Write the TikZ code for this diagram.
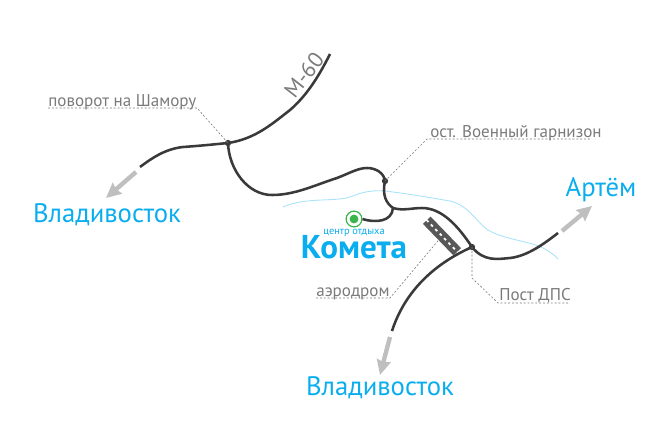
\documentclass[tikz,border=0pt]{standalone}
\usepackage{fontspec}
\setmainfont{PT Sans}
\usetikzlibrary{positioning, arrows.meta}
\definecolor{skyblue}{HTML}{0AADEE}
\definecolor{roadgray}{HTML}{3A3A3A}
\definecolor{labelgray}{HTML}{7A7A7A}
\definecolor{restgreen}{HTML}{39B54A}
\tikzset{
	road/.style={draw=roadgray, line width=1.45pt},
	river/.style={draw=skyblue!35, line width=0.5pt},
	leader/.style={draw=labelgray, line width=0.35pt, dash pattern=on 1.1pt off 1.1pt},
	way/.style={draw=black!25, line width=2.5pt, -{Stealth[length=8.5pt, width=8pt, inset=1pt]}},
	junction/.style={circle, fill=roadgray, inner sep=0pt, minimum size=3.6pt},
	city/.style={text=skyblue, font=\fontsize{15.2}{16}\selectfont, inner sep=0pt},
	placelabel/.style={text=labelgray, font=\fontsize{9.7}{10}\selectfont, inner sep=0pt}
}
\begin{document}
\begin{tikzpicture}[x=0.02cm, y=-0.02cm]
	\useasboundingbox (0,0) rectangle (670,447);
	%river
	\draw[river] (283,207) .. controls (305,197) and (335,202) .. (350,197) .. controls (362,192) and (372,190) .. (385,191) .. controls (410,194) and (432,198) .. (450,201) .. controls (470,206) and (476,222) .. (488,230) .. controls (505,240) and (530,241) .. (543,248) .. controls (550,252) and (555,255) .. (558,259);
	%junctions
	\node[junction] (shamora) at (228,143) {};
	\node[junction] (garrison) at (385,181) {};
	\node[junction] (dps) at (472,247) {};
	\coordinate (fork) at (393,208);
	\coordinate (m60end) at (330,54);
	\coordinate (westend) at (140,167);
	\coordinate (eastend) at (558,233);
	\coordinate (southend) at (392,331);
	%roads
	\draw[road] (shamora.center) .. controls (255,139) and (272,124) .. (290,110) .. controls (305,97) and (317,80) .. (m60end);
	\draw[road] (shamora.center) .. controls (208,145) and (197,146) .. (183,147) .. controls (165,149) and (152,158) .. (westend);
	\draw[road] (shamora.center) .. controls (229,170) and (248,195) .. (272,195) .. controls (295,195) and (315,185) .. (337,178) .. controls (350,173) and (358,168) .. (367,168) .. controls (376,168) and (384,173) .. (garrison.center);
	\draw[road] (garrison.center) .. controls (382,195) and (386,203) .. (fork);
	\draw[road] (fork) .. controls (403,211) and (412,208) .. (422,208) .. controls (442,208) and (458,226) .. (dps.center);
	\draw[road] (dps.center) .. controls (484,262) and (498,259) .. (510,258) .. controls (528,256) and (545,243) .. (eastend);
	\draw[road] (dps.center) .. controls (425,268) and (402,300) .. (southend);
	%kometa
	\node[circle, draw=restgreen, fill=white, line width=0.7pt, minimum size=9pt, inner sep=0pt] (kometa) at (354,219) {};
	\node[circle, fill=restgreen, minimum size=5pt, inner sep=0pt] (kometadot) at (354,219) {};
	\draw[road] (kometa.east) .. controls (375,223) and (392,222) .. (fork);
	\node[text=skyblue, font=\fontsize{5.9}{7}\selectfont, inner sep=0pt] (rest) at (354,233) {центр отдыха};
	\node[text=skyblue, font=\fontsize{18.8}{19}\selectfont\bfseries, inner sep=0pt] (kometaname) at (354,247) {Комета};
	%airfield
	\node[rotate=-46, fill=roadgray!85, minimum width=25pt, minimum height=6pt, inner sep=0pt] (airfield) at (442,236) {};
	\draw[white, line width=1pt, dash pattern=on 1.6pt off 2pt] (airfield.west) -- (airfield.east);
	%ways out
	\node[city] (vlwest) at (107,215) {Владивосток};
	\node[city] (vlsouth) at (380,388) {Владивосток};
	\node[city] (artem) at (601,190) {Артём};
	\coordinate (westtip) at (106,198);
	\coordinate (southtip) at (380,375);
	\coordinate (easttip) at (592,206);
	\draw[way] (136,172) -- (westtip);
	\draw[way] (390,337) -- (southtip);
	\draw[way] (562,231) -- (easttip);
	%labels
	\node[placelabel, anchor=base west] (shamoratext) at (48,106) {поворот на Шамору};
	\node[placelabel, anchor=base west] (garrisontext) at (430,137) {ост. Военный гарнизон};
	\node[placelabel, anchor=base west] (airfieldtext) at (316,296) {аэродром};
	\node[placelabel, anchor=base west] (dpstext) at (499,300) {Пост ДПС};
	\node[text=labelgray, font=\fontsize{12.5}{13}\selectfont, rotate=52, inner sep=0pt] (m60) at (304,75) {М-60};
	%leaders
	\draw[leader] (48,108) -- (197,108) -- (shamora.center);
	\draw[leader] (garrison.center) -- (427,139) -- (590,139);
	\draw[leader] (316,298) -- (390,298) -- (airfield);
	\draw[leader] (dps.center) -- (472,278) -- (498,303) -- (570,303);
\end{tikzpicture}
\end{document}
